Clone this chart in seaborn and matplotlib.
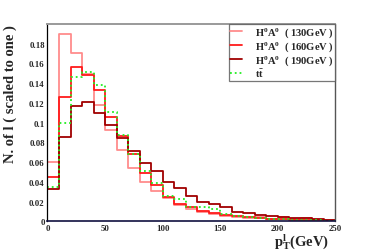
import numpy as np
import pandas as pd
import matplotlib
matplotlib.use("Agg")
import matplotlib.pyplot as plt
from matplotlib.ticker import MultipleLocator, FuncFormatter
import seaborn as sns

# pT of lepton, 10 GeV bins from 0 to 250, normalised to one
bin_centers = np.arange(5, 250, 10)

h130 = [0.060, 0.190, 0.170, 0.149, 0.118, 0.093, 0.072, 0.054, 0.040, 0.031,
        0.0235, 0.017, 0.013, 0.010, 0.0078, 0.0055, 0.0045, 0.0035, 0.0045, 0.0025,
        0.0040, 0.0020, 0.0035, 0.0015, 0.0010]
h160 = [0.045, 0.126, 0.156, 0.148, 0.133, 0.106, 0.086, 0.068, 0.049, 0.037,
        0.0245, 0.018, 0.0144, 0.011, 0.0087, 0.0067, 0.0050, 0.0040, 0.0030, 0.0025,
        0.0020, 0.0015, 0.0012, 0.0010, 0.0008]
h190 = [0.033, 0.085, 0.117, 0.121, 0.110, 0.098, 0.084, 0.071, 0.059, 0.051,
        0.040, 0.034, 0.026, 0.020, 0.0175, 0.0142, 0.0100, 0.0081, 0.0068, 0.0050,
        0.0045, 0.0030, 0.0030, 0.0020, 0.0015]
htt = [0.035, 0.100, 0.146, 0.151, 0.138, 0.111, 0.087, 0.068, 0.0506, 0.0386,
       0.026, 0.0226, 0.0148, 0.0148, 0.013, 0.0075, 0.0055, 0.0040, 0.0030, 0.0025,
       0.0020, 0.0015, 0.0010, 0.0010, 0.0008]

labels = [r"H$^{\mathbf{0}}$A$^{\mathbf{0}}$  ( 130GeV )",
          r"H$^{\mathbf{0}}$A$^{\mathbf{0}}$  ( 160GeV )",
          r"H$^{\mathbf{0}}$A$^{\mathbf{0}}$  ( 190GeV )",
          r"t$\mathbf{\bar{t}}$"]
colors = ["#ff8c8c", "#ff1a1a", "#a00000", "#22ee22"]
styles = ["-", "-", "-", ":"]

sns.set_theme(style="white")
plt.rcParams["font.family"] = ["Liberation Serif", "DejaVu Serif"]
plt.rcParams["font.weight"] = "bold"
plt.rcParams["mathtext.fontset"] = "custom"
plt.rcParams["mathtext.rm"] = "Liberation Serif:bold"
plt.rcParams["mathtext.it"] = "Liberation Serif:bold"
plt.rcParams["mathtext.bf"] = "Liberation Serif:bold"

fig = plt.figure(figsize=(3.74, 2.53), dpi=100)
ax = fig.add_axes([0.127, 0.121, 0.769, 0.781])

for vals, col, ls, lab in zip([h130, h160, h190, htt], colors, styles, labels):
    df = pd.DataFrame({"pt": bin_centers, "w": vals})
    sns.histplot(data=df, x="pt", weights="w", binwidth=10, binrange=(0, 250),
                 element="step", fill=False, color=col, linestyle=ls,
                 linewidth=1.3, ax=ax, label=lab)

ax.set_xlim(0, 250)
ax.set_ylim(0, 0.2)
ax.xaxis.set_major_locator(MultipleLocator(50))
ax.xaxis.set_minor_locator(MultipleLocator(10))
ax.yaxis.set_major_locator(MultipleLocator(0.02))
ax.yaxis.set_minor_locator(MultipleLocator(0.005))
ax.yaxis.set_major_formatter(FuncFormatter(lambda v, p: "%g" % round(v, 3) if v < 0.19 else ""))
ax.tick_params(axis="both", which="both", direction="in", top=False, right=False,
               labelsize=6.3, pad=2, width=0.8, color="#222222")
ax.tick_params(which="major", length=4.5)
ax.tick_params(which="minor", length=2.2)
ax.tick_params(axis="y", which="major", length=5.5)
for t in ax.get_xticklabels() + ax.get_yticklabels():
    t.set_fontweight("bold")

ax.spines["top"].set_color("#9a9a9a")
ax.spines["top"].set_linewidth(1.4)
ax.spines["right"].set_color("#555555")
ax.spines["right"].set_linewidth(1.0)
ax.spines["bottom"].set_color("#101040")
ax.spines["bottom"].set_linewidth(1.2)
ax.spines["left"].set_color("#000000")
ax.spines["left"].set_linewidth(0.9)

ax.set_ylabel("N. of l ( scaled to one )", fontsize=10.5, fontweight="bold", loc="top")
ax.yaxis.set_label_coords(-0.105, 1.0)
ax.set_xlabel(r"p$_{T}^{l}$(GeV)", fontsize=10.5, fontweight="bold", loc="right")
ax.xaxis.set_label_coords(0.98, -0.05)

leg = ax.legend(loc="upper right", bbox_to_anchor=(1.0, 1.0), fontsize=7.6,
                frameon=True, fancybox=False, borderaxespad=0, handlelength=1.15,
                handletextpad=1.15, labelspacing=0.0, borderpad=0.15)
leg.get_frame().set_edgecolor("#555555")
leg.get_frame().set_linewidth(0.9)
for t in leg.get_texts():
    t.set_fontweight("bold")

fig.savefig("out.png", dpi=100)
